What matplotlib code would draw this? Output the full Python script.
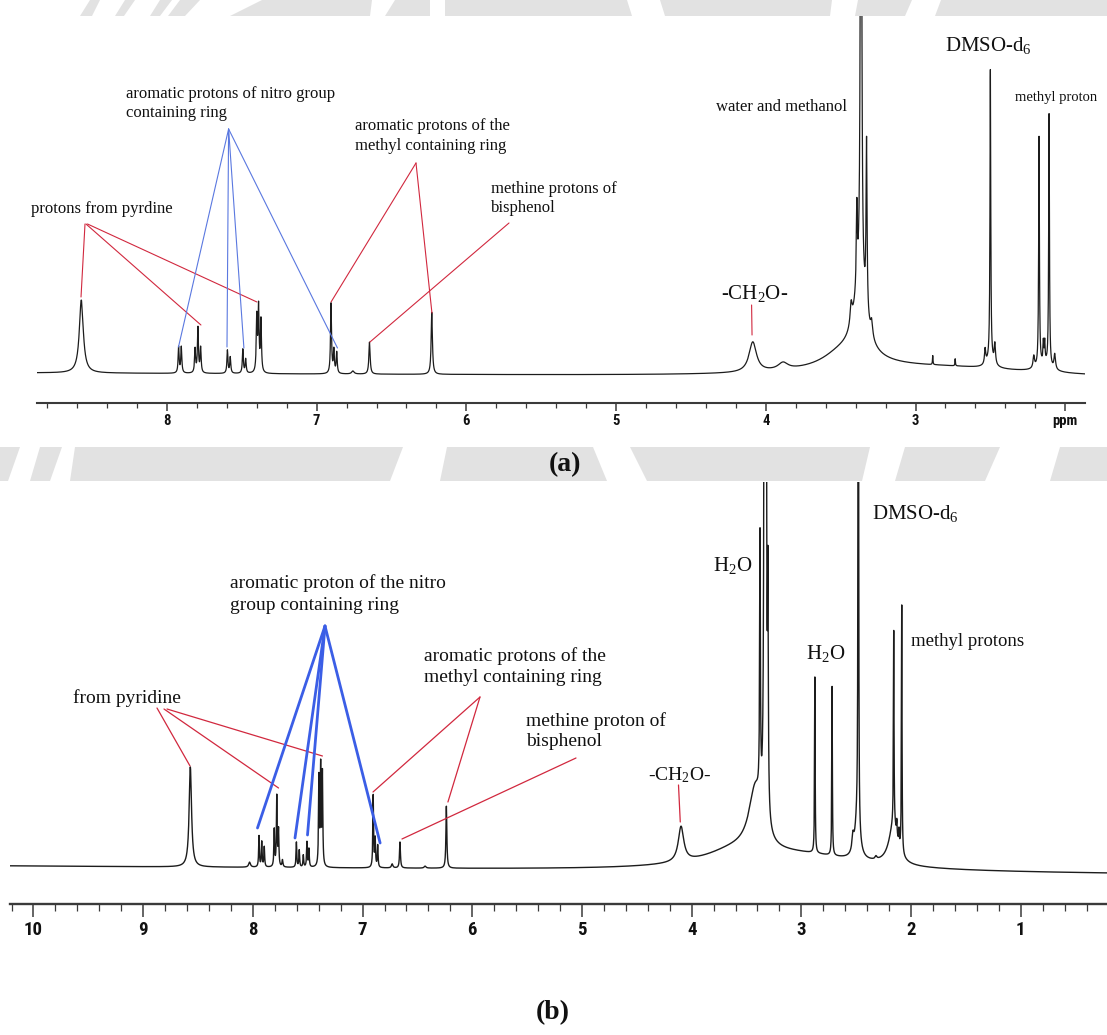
import os
import numpy as np
import matplotlib
matplotlib.use("Agg")
import matplotlib.pyplot as plt
from matplotlib.patches import Polygon
from matplotlib.ticker import MultipleLocator, FixedLocator, FixedFormatter
from matplotlib import font_manager as fm

W, H = 1107, 1035
plt.rcParams['font.family'] = ['Liberation Serif', 'DejaVu Serif']
plt.rcParams['mathtext.fontset'] = 'custom'
plt.rcParams['mathtext.rm'] = 'Liberation Serif'
plt.rcParams['mathtext.it'] = 'Liberation Serif:italic'
plt.rcParams['mathtext.bf'] = 'Liberation Serif:bold'

# ---------------- data: panel (a) peak list (ppm, height, half-width) ----------------
a_ppm = [8.572, 7.922, 7.904, 7.812, 7.793, 7.775, 7.596, 7.577, 7.493, 7.474,
         7.400, 7.388, 7.372, 6.904, 6.885, 6.866, 6.758, 6.647, 6.231,
         4.087, 3.885, 3.50, 3.430, 3.392, 3.364, 3.327, 3.293, 3.37, 3.37,
         2.885, 2.735, 2.535, 2.500, 2.470, 2.50,
         2.21, 2.175, 2.146, 2.137, 2.108, 2.07, 2.14, 2.8]
a_height = [73, 26, 26, 24, 45, 25, 23, 16, 24, 14,
            55, 64, 52, 70, 23, 21, 3, 32, 62,
            30, 7, 12, 21, 80, 900, 170, 15, 70, 8,
            9, 7, 15, 290, 20, 8,
            12, 229, 20, 20, 252, 15, 8, 9]
a_width = [0.016, 0.004, 0.004, 0.004, 0.004, 0.004, 0.004, 0.004, 0.004, 0.004,
           0.004, 0.004, 0.004, 0.004, 0.004, 0.004, 0.010, 0.005, 0.005,
           0.030, 0.040, 0.15, 0.008, 0.004, 0.004, 0.004, 0.008, 0.05, 0.30,
           0.002, 0.002, 0.005, 0.003, 0.005, 0.03,
           0.006, 0.003, 0.003, 0.003, 0.003, 0.006, 0.05, 0.7]
a_base = [30, 25]          # baseline at left / right edge
a_range = [8.868, 1.868]
a_ticks = [8, 7, 6, 5, 4, 3, 2]
a_ticklabels = ['8', '7', '6', '5', '4', '3', 'ppm']

# ---------------- data: panel (b) peak list ----------------
b_ppm = [8.570, 8.03, 7.944, 7.919, 7.896, 7.805, 7.782, 7.766, 7.73,
         7.603, 7.577, 7.54, 7.507, 7.489, 7.398, 7.382, 7.366,
         6.903, 6.885, 6.862, 6.73, 6.659, 6.43, 6.236,
         4.097, 3.60, 3.42, 3.377, 3.335, 3.322, 3.305,
         2.877, 2.720, 2.53, 2.481, 2.49,
         2.32, 2.158, 2.13, 2.11, 2.085, 2.16, 3.0]
b_height = [100, 5, 31, 25, 20, 37, 70, 36, 7,
            25, 17, 12, 25, 18, 88, 98, 92,
            72, 28, 22, 4, 26, 2, 62,
            35, 14, 60, 260, 1500, 800, 220,
            176, 169, 15, 1500, 40,
            3, 194, 14, 14, 248, 40, 15]
b_width = [0.013, 0.010, 0.004, 0.004, 0.004, 0.004, 0.004, 0.004, 0.005,
           0.004, 0.004, 0.004, 0.004, 0.004, 0.004, 0.004, 0.004,
           0.004, 0.004, 0.004, 0.008, 0.005, 0.010, 0.005,
           0.030, 0.35, 0.07, 0.004, 0.004, 0.004, 0.004,
           0.003, 0.003, 0.010, 0.002, 0.025,
           0.010, 0.003, 0.003, 0.003, 0.003, 0.05, 0.7]
b_base = [38, 30]
b_range = [10.214, 0.214]
b_ticks = [10, 9, 8, 7, 6, 5, 4, 3, 2, 1]
b_ticklabels = ['10', '9', '8', '7', '6', '5', '4', '3', '2', '1']

# ---------------- labels (text, x px, y px, size) ----------------
a_labels = [("aromatic protons of nitro group", 126, 94, 12),
            ("containing ring", 126, 113, 12),
            ("aromatic protons of the", 355, 126, 12),
            ("methyl containing ring", 355, 146, 12),
            ("methine protons of", 491, 189, 12),
            ("bisphenol", 491, 208, 12),
            ("protons from pyrdine", 31, 209, 12),
            ("water and methanol", 716, 107, 12),
            ("DMSO-d$_6$", 945, 45, 15),
            ("methyl proton", 1015, 97, 10.5),
            ("-CH$_2$O-", 721, 293, 15)]
b_labels = [("aromatic proton of the nitro", 230, 583, 14),
            ("group containing ring", 230, 605, 14),
            ("from pyridine", 73, 698, 14),
            ("aromatic protons of the", 424, 656, 14),
            ("methyl containing ring", 424, 677, 14),
            ("methine proton of", 526, 721, 14),
            ("bisphenol", 526, 742, 14),
            ("-CH$_2$O-", 648, 775, 14),
            ("H$_2$O", 713, 565, 15),
            ("H$_2$O", 806, 653, 15),
            ("DMSO-d$_6$", 872, 513, 15),
            ("methyl protons", 911, 641, 13.5)]

# leader lines: (colour key, start px (x, y), target ppm, target px y)
a_leaders = [('r', (85, 224), 8.574, 297), ('r', (86, 224), 7.773, 325), ('r', (87.5, 224), 7.399, 302),
             ('b', (228.6, 129), 7.923, 347), ('b', (228.6, 129), 7.599, 347),
             ('b', (228.6, 129), 7.486, 348), ('b', (228.6, 129), 6.861, 348),
             ('r', (416, 163), 6.904, 302), ('r', (416, 163), 6.230, 313),
             ('r', (509, 223), 6.644, 342),
             ('r', (751.6, 305), 4.092, 335)]
b_leaders = [('r', (157, 708), 8.573, 766), ('r', (164, 709), 7.766, 788), ('r', (167, 709), 7.366, 756),
             ('b', (325, 626), 7.958, 828), ('b', (325, 626), 7.616, 838),
             ('b', (325, 626), 7.502, 835), ('b', (325, 626), 6.840, 843),
             ('r', (480, 697), 6.905, 792), ('r', (480, 697), 6.222, 802),
             ('r', (576, 758), 6.641, 839),
             ('r', (678.5, 785), 4.104, 822)]


# ---------------- pick a bold condensed sans for the ppm scale ----------------
def pick_narrow_bold():
    prefs = ['liberationsansnarrow', 'robotocondensed', 'dejavusanscondensed',
             'opensanscondensed', 'notosanscondensed', 'condensed', 'narrow']
    files = []
    for f in fm.fontManager.ttflist:
        base = os.path.basename(f.fname).lower().replace('-', '').replace('_', '')
        if 'bold' in base and 'italic' not in base and 'oblique' not in base \
                and 'extrabold' not in base and 'semibold' not in base:
            files.append((base, f.fname))
    for p in prefs:
        for base, fn in files:
            if p in base:
                return fm.FontProperties(fname=fn)
    return fm.FontProperties(family=['Liberation Sans', 'DejaVu Sans'], weight='bold')


tick_fp = pick_narrow_bold()

# ---------------- figure ----------------
fig = plt.figure(figsize=(W / 100, H / 100), dpi=100)
bg = fig.add_axes([0, 0, 1, 1], zorder=0)
bg.set_xlim(0, W)
bg.set_ylim(H, 0)
bg.axis('off')

# faint watermark bands
wm = '#e2e2e2'
top_band = [(90, 100, 80, 92), (125, 135, 115, 124), (160, 172, 150, 160), (180, 200, 168, 185),
            (262, 372, 230, 370), (395, 430, 385, 430), (445, 627, 445, 632),
            (660, 832, 665, 830), (858, 912, 855, 905), (941, 1107, 935, 1107)]
for tl, tr, bl, br in top_band:
    bg.add_patch(Polygon([(tl, 0), (tr, 0), (br, 16), (bl, 16)], closed=True, fc=wm, ec='none'))
mid_band = [(0, 20, 0, 8), (40, 62, 30, 50), (75, 403, 70, 390), (447, 593, 440, 607),
            (630, 870, 647, 862), (905, 1000, 895, 985), (1060, 1107, 1050, 1107)]
for tl, tr, bl, br in mid_band:
    bg.add_patch(Polygon([(tl, 447), (tr, 447), (br, 481), (bl, 481)], closed=True, fc=wm, ec='none'))


def spectrum(x, ppm, hgt, wid, base, rng):
    y = base[0] + (base[1] - base[0]) * (rng[0] - x) / (rng[0] - rng[1])
    for c, h, w in zip(ppm, hgt, wid):
        y = y + h * w * w / ((x - c) ** 2 + w * w)
    return y


def make_panel(left, right, top, bottom, rng, ppm, hgt, wid, base, ticks, ticklabels,
               tsize, tlen, lw_spine, lw_line, pad):
    ax = fig.add_axes([left / W, 1 - bottom / H, (right - left) / W, (bottom - top) / H], zorder=2)
    ax.patch.set_alpha(0)
    x = np.arange(rng[1], rng[0], 0.0005)
    y = spectrum(x, ppm, hgt, wid, base, rng)
    ax.plot(x, y, color='#1c1c1c', lw=lw_line, solid_joinstyle='round')
    ax.set_xlim(rng[0], rng[1])
    ax.set_ylim(0, bottom - top)
    for s in ['top', 'left', 'right']:
        ax.spines[s].set_visible(False)
    ax.spines['bottom'].set_linewidth(lw_spine)
    ax.spines['bottom'].set_color('#3a3a3a')
    ax.set_yticks([])
    ax.xaxis.set_major_locator(FixedLocator(ticks))
    ax.xaxis.set_major_formatter(FixedFormatter(ticklabels))
    ax.xaxis.set_minor_locator(MultipleLocator(0.2))
    ax.tick_params(axis='x', which='major', length=tlen, width=1.1, color='#3a3a3a', pad=pad)
    ax.tick_params(axis='x', which='minor', length=tlen * 0.55, width=0.9, color='#3a3a3a')
    for lab in ax.get_xticklabels():
        lab.set_fontproperties(tick_fp)
        lab.set_fontsize(tsize)
        lab.set_color('#111111')
    return ax


ax_a = make_panel(37, 1085, 16, 403, a_range, a_ppm, a_height, a_width, a_base,
                  a_ticks, a_ticklabels, 10.5, 6, 1.5, 0.9, 2)
ax_b = make_panel(10, 1107, 482, 904, b_range, b_ppm, b_height, b_width, b_base,
                  b_ticks, b_ticklabels, 13.5, 9, 1.7, 1.0, 3)

red = '#d1283e'
blue_a = '#5a78e0'
blue_b = '#3b5ee6'


def leaders(ax, items, bottom, lw_r, lw_b, blue):
    for key, (sx, sy), tp, ty in items:
        col = red if key == 'r' else blue
        lw = lw_r if key == 'r' else lw_b
        ax.annotate('', xy=(tp, bottom - ty), xycoords='data',
                    xytext=(sx, H - sy), textcoords='figure pixels',
                    arrowprops=dict(arrowstyle='-', color=col, lw=lw, shrinkA=0, shrinkB=0),
                    annotation_clip=False, zorder=3)


leaders(ax_a, a_leaders, 403, 0.8, 0.8, blue_a)
leaders(ax_b, b_leaders, 904, 0.9, 2.0, blue_b)

for txt, x, y, s in a_labels + b_labels:
    fig.text(x / W, 1 - y / H, txt, ha='left', va='center', fontsize=s, color='#111111', zorder=5)

fig.text(565 / W, 1 - 465 / H, '(a)', ha='center', va='center', fontsize=20,
         fontweight='bold', color='#111111', zorder=5)
fig.text(553 / W, 1 - 1013 / H, '(b)', ha='center', va='center', fontsize=20,
         fontweight='bold', color='#111111', zorder=5)

fig.savefig('out.png', dpi=100, facecolor='white')
